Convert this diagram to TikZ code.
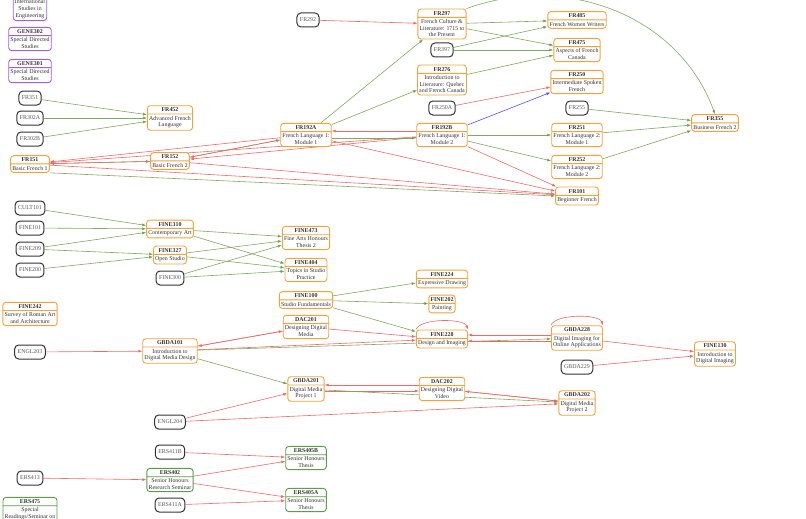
\documentclass[tikz,border=0pt]{standalone}
\usepackage{fontspec}
\setmainfont{Liberation Serif}
\usetikzlibrary{shapes.multipart,arrows.meta,backgrounds}
\definecolor{orng}{HTML}{F2A33A}
\definecolor{purp}{HTML}{A060D8}
\definecolor{grn}{HTML}{5A9E48}
\definecolor{ered}{HTML}{EE6A6A}
\definecolor{egrn}{HTML}{7FA860}
\definecolor{eblu}{HTML}{5050F0}
\tikzset{
 crs/.style={rectangle split,rectangle split parts=2,draw=orng,line width=0.9pt,rounded corners=3pt,
   align=center,font=\fontsize{5.9}{6.6}\selectfont,inner sep=1.7pt,fill=white,text=black!80},
 pcrs/.style={crs,draw=purp},
 gcrs/.style={crs,draw=grn},
 ext/.style={draw=black!80,line width=1pt,rounded corners=4pt,font=\fontsize{5.9}{6.6}\selectfont,
   text=black!65,inner sep=3pt,minimum height=14pt,fill=white},
 rr/.style={draw=ered,line width=0.6pt,-{Latex[length=4pt,width=3pt]}},
 gg/.style={draw=egrn,line width=0.6pt,-{Latex[length=4pt,width=3pt,fill=green!45!black]}},
 bb/.style={draw=eblu,line width=0.6pt,-{Latex[length=4pt,width=3pt]}},
}
\newcommand{\cn}[2]{\textbf{#1}\nodepart{two}#2}
\begin{document}
\begin{tikzpicture}[x=1pt,y=-1pt]
\useasboundingbox (0,0) rectangle (806,519);
% nodes
\node[pcrs] (INTL) at (30,5) {\cn{GENE303}{International\\Studies in\\Engineering}};
\node[pcrs] (GENE302) at (30,39) {\cn{GENE302}{Special Directed\\Studies}};
\node[pcrs] (GENE301) at (30,71) {\cn{GENE301}{Special Directed\\Studies}};
\node[ext] (FR351) at (30,98) {FR351};
\node[ext] (FR302A) at (30,118) {FR302A};
\node[ext] (FR302B) at (30,139) {FR302B};
\node[crs] (FR452) at (170,118) {\cn{FR452}{Advanced French\\Language}};
\node[crs] (FR151) at (30,164) {\cn{FR151}{Basic French 1}};
\node[crs] (FR152) at (170,161) {\cn{FR152}{Basic French 2}};
\node[crs] (FR192A) at (306,135) {\cn{FR192A}{French Language 1:\\Module 1}};
\node[crs] (FR192B) at (442,135) {\cn{FR192B}{French Language 1:\\Module 2}};
\node[ext] (FR292) at (308,20) {FR292};
\node[crs] (FR297) at (442,24) {\cn{FR297}{French Culture \&\\Literature: 1715 to\\the Present}};
\node[ext] (FR397) at (442,50) {FR397};
\node[crs] (FR276) at (442,80) {\cn{FR276}{Introduction to\\Literature: Quebec\\and French Canada}};
\node[ext] (FR250A) at (442,108) {FR250A};
\node[crs] (FR485) at (577,20) {\cn{FR485}{French Women Writers}};
\node[crs] (FR475) at (577,50) {\cn{FR475}{Aspects of French\\Canada}};
\node[crs] (FR250) at (577,82) {\cn{FR250}{Intermediate Spoken\\French}};
\node[ext] (FR255) at (577,108) {FR255};
\node[crs] (FR251) at (577,135) {\cn{FR251}{French Language 2:\\Module 1}};
\node[crs] (FR252) at (577,167) {\cn{FR252}{French Language 2:\\Module 2}};
\node[crs] (FR101) at (577,196) {\cn{FR101}{Beginner French}};
\node[crs] (FR355) at (715,123) {\cn{FR355}{Business French 2}};
\node[ext] (CULT101) at (30,208) {CULT101};
\node[ext] (FINE101) at (30,228) {FINE101};
\node[ext] (FINE209) at (30,249) {FINE209};
\node[ext] (FINE200) at (30,270) {FINE200};
\node[crs] (FINE310) at (170,229) {\cn{FINE310}{Contemporary Art}};
\node[crs] (FINE327) at (170,255) {\cn{FINE327}{Open Studio}};
\node[ext] (FINE300) at (170,278) {FINE300};
\node[crs] (FINE473) at (306,238) {\cn{FINE473}{Fine Arts Honours\\Thesis 2}};
\node[crs] (FINE404) at (306,270) {\cn{FINE404}{Topics in Studio\\Practice}};
\node[crs] (FINE242) at (30,314) {\cn{FINE242}{Survey of Roman Art\\and Architecture}};
\node[crs] (FINE100) at (306,300) {\cn{FINE100}{Studio Fundamentals}};
\node[crs] (DAC201) at (306,327) {\cn{DAC201}{Designing Digital\\Media}};
\node[crs] (FINE224) at (442,279) {\cn{FINE224}{Expressive Drawing}};
\node[crs] (FINE202) at (442,304) {\cn{FINE202}{Painting}};
\node[crs] (FINE228) at (442,339) {\cn{FINE228}{Design and Imaging}};
\node[crs] (GBDA228) at (577,338) {\cn{GBDA228}{Digital Imaging for\\Online Applications}};
\node[ext] (GBDA229) at (577,367) {GBDA229};
\node[crs] (FINE130) at (715,354) {\cn{FINE130}{Introduction to\\Digital Imaging}};
\node[ext] (ENGL203) at (30,352) {ENGL203};
\node[crs] (GBDA101) at (170,351) {\cn{GBDA101}{Introduction to\\Digital Media Design}};
\node[crs] (GBDA201) at (306,389) {\cn{GBDA201}{Digital Media\\Project 1}};
\node[crs] (DAC202) at (442,389) {\cn{DAC202}{Designing Digital\\Video}};
\node[crs] (GBDA202) at (577,403) {\cn{GBDA202}{Digital Media\\Project 2}};
\node[ext] (ENGL204) at (170,422) {ENGL204};
\node[ext] (ERS411B) at (170,452) {ERS411B};
\node[gcrs] (ERS405B) at (306,458) {\cn{ERS405B}{Senior Honours\\Thesis}};
\node[ext] (ERS413) at (30,478) {ERS413};
\node[gcrs] (ERS402) at (170,480) {\cn{ERS402}{Senior Honours\\Research Seminar}};
\node[gcrs] (ERS405A) at (306,500) {\cn{ERS405A}{Senior Honours\\Thesis}};
\node[ext] (ERS411A) at (170,505) {ERS411A};
\node[gcrs] (ERS475) at (30,513) {\cn{ERS475}{Special\\Readings/Seminar on\\Select Topics}};
\begin{scope}[on background layer]
\draw[gg] (FR351) -- (FR452); \draw[gg] (FR302A) -- (FR452); \draw[gg] (FR302B) -- (FR452);
\draw[gg] (FR151) -- (FR152);
\draw[rr] (FR152) -- (FR151);
\draw[gg] (FR152) -- (FR192A);
\draw[rr] (FR192A) -- (FR152);
\draw[rr] (FR192A) -- (FR151);
\draw[rr] (FR192B) -- (FR152);
\draw[rr] (FR192B) -- (FR151);
\draw[gg] (FR192A.east|-0,138) -- (FR192B.west|-0,138);
\draw[rr] (FR192B.west|-0,131) -- (FR192A.east|-0,131);
\draw[rr] (FR151) -- (FR101);
\draw[gg] (FR151.south east) -- (FR101.west);
\draw[rr] (FR152) -- (FR101);
\draw[rr] (FR192A) -- (FR101);
\draw[rr] (FR192B) -- (FR101);
\draw[gg] (FR192A) -- (FR297);
\draw[gg] (FR192A) -- (FR276);
\draw[rr] (FR292) -- (FR297);
\draw[gg] (FR297) -- (FR485);
\draw[gg] (FR297) -- (FR475);
\draw[gg] (FR397) -- (FR485);
\draw[gg] (FR397) -- (FR475);
\draw[gg] (FR276) -- (FR475);
\draw[gg] (FR297.north east) to[out=20,in=110] (FR355.north);
\draw[rr] (FR250A) -- (FR250);
\draw[bb] (FR192B) -- (FR250);
\draw[gg] (FR192B) -- (FR251);
\draw[gg] (FR192B) -- (FR252);
\draw[gg] (FR255) -- (FR355);
\draw[gg] (FR251) -- (FR355);
\draw[gg] (FR252) -- (FR355);
\draw[gg] (CULT101) -- (FINE310);
\draw[gg] (FINE101) -- (FINE310);
\draw[gg] (FINE209) -- (FINE310);
\draw[gg] (FINE209) -- (FINE327);
\draw[gg] (FINE200) -- (FINE327);
\draw[gg] (FINE310) -- (FINE473);
\draw[gg] (FINE310) -- (FINE404);
\draw[gg] (FINE327) -- (FINE473);
\draw[gg] (FINE327) -- (FINE404);
\draw[gg] (FINE300) -- (FINE473);
\draw[gg] (FINE300) -- (FINE404);
\draw[gg] (FINE100) -- (FINE224);
\draw[gg] (FINE100) -- (FINE202);
\draw[gg] (FINE100) -- (FINE228);
\draw[rr] (ENGL203) -- (GBDA101);
\draw[rr] (DAC201) -- (GBDA101);
\draw[rr] (GBDA101) -- (DAC201);
\draw[rr] (DAC201) -- (FINE228);
\draw[rr] (GBDA101) -- (FINE228);
\draw[gg] (GBDA101) -- (GBDA228);
\draw[gg] (GBDA101) -- (GBDA201);
\draw[rr] (FINE228.north west) to[out=70,in=110,looseness=0.6] (FINE228.north east);
\draw[rr] (GBDA228.north west) to[out=70,in=110,looseness=0.6] (GBDA228.north east);
\draw[rr] (GBDA228.west|-0,335) -- (FINE228.east|-0,335);
\draw[rr] (GBDA228.west|-0,341) -- (FINE228.east|-0,341);
\draw[rr] (GBDA228) -- (FINE130);
\draw[rr] (GBDA229) -- (FINE130);
\draw[rr] (DAC202.west|-0,385) -- (GBDA201.east|-0,385);
\draw[rr] (GBDA201.east|-0,391) -- (DAC202.west|-0,391);
\draw[rr] (GBDA202) -- (DAC202);
\draw[rr] (DAC202) -- (GBDA202);
\draw[gg] (GBDA201) -- (GBDA202);
\draw[rr] (ENGL204) -- (GBDA201);
\draw[rr] (ENGL204) -- (GBDA202);
\draw[rr] (ERS411B) -- (ERS405B);
\draw[rr] (ERS402) -- (ERS405B);
\draw[rr] (ERS402) -- (ERS405A);
\draw[rr] (ERS411A) -- (ERS405A);
\draw[rr] (ERS413) -- (ERS402);
\end{scope}
\end{tikzpicture}
\end{document}
